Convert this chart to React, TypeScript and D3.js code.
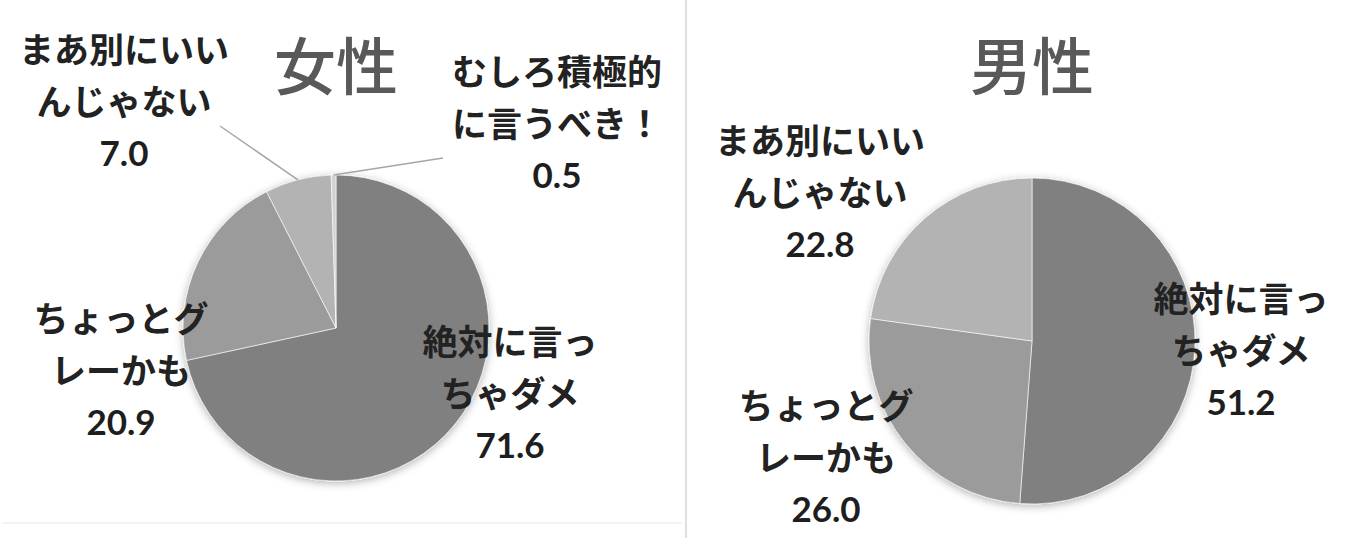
import React from 'react';
import * as d3 from 'd3';

// answer categories, clockwise from 12 o'clock
const categories = ['絶対に言っちゃダメ', 'ちょっとグレーかも', 'まあ別にいいんじゃない', 'むしろ積極的に言うべき！'];
const categoryLines = [
  ['絶対に言っ', 'ちゃダメ'],
  ['ちょっとグ', 'レーかも'],
  ['まあ別にいい', 'んじゃない'],
  ['むしろ積極的', 'に言うべき！'],
];
const femaleValues = [71.6, 20.9, 7.0, 0.5];
const maleValues = [51.2, 26.0, 22.8];
const sliceColors = ['#808080', '#9b9b9b', '#b3b3b3', '#d2d2d2'];

const W = 1364;
const H = 538;
const JP = '"Noto Sans CJK JP", "Noto Sans", sans-serif';
const NUM = 'Lato, "Open Sans", sans-serif';

interface PanelLayout {
  title: string;
  cx: number;
  cy: number;
  r: number;
  titleY: number;
  // center of first label line for each slice, plus optional leader end
  labels: { x: number; y: number; leader?: [number, number] }[];
}

const femaleLayout: PanelLayout = {
  title: '女性',
  cx: 336,
  cy: 328,
  r: 153,
  titleY: 63,
  labels: [
    { x: 510, y: 339 },
    { x: 121, y: 316 },
    { x: 124, y: 47, leader: [220, 126] },
    { x: 557, y: 69, leader: [443, 158] },
  ],
};

const maleLayout: PanelLayout = {
  title: '男性',
  cx: 1032,
  cy: 341,
  r: 163,
  titleY: 63,
  labels: [
    { x: 1241, y: 296 },
    { x: 826, y: 403 },
    { x: 820, y: 138 },
  ],
};

const lineGap = 52;

const PiePanel: React.FC<{ values: number[]; layout: PanelLayout; id: string }> = ({ values, layout, id }) => {
  const pie = d3.pie<number>().sort(null).value(d => d).startAngle(0).endAngle(2 * Math.PI);
  const arcs = pie(values);
  const arc = d3.arc<d3.PieArcDatum<number>>().innerRadius(0).outerRadius(layout.r);
  const edge = d3.arc<d3.PieArcDatum<number>>().innerRadius(layout.r).outerRadius(layout.r);

  return (
    <g>
      <text
        x={layout.cx}
        y={layout.titleY}
        textAnchor="middle"
        dominantBaseline="central"
        fontFamily={JP}
        fontWeight={500}
        fontSize={62}
        fill="#595959"
      >
        {layout.title}
      </text>
      <g transform={`translate(${layout.cx},${layout.cy})`} filter={`url(#shadow-${id})`}>
        {arcs.map((a, i) => (
          <path key={i} d={arc(a) || ''} fill={sliceColors[i]} stroke="#ffffff" strokeWidth={0.6} />
        ))}
      </g>
      {arcs.map((a, i) => {
        const lab = layout.labels[i];
        if (!lab) return null;
        const [ex, ey] = edge.centroid(a);
        return (
          <g key={i}>
            {lab.leader && (
              <line
                x1={layout.cx + ex}
                y1={layout.cy + ey}
                x2={lab.leader[0]}
                y2={lab.leader[1]}
                stroke="#a6a6a6"
                strokeWidth={1.5}
              />
            )}
            {categoryLines[i].map((ln, k) => (
              <text
                key={k}
                x={lab.x}
                y={lab.y + k * lineGap}
                textAnchor="middle"
                dominantBaseline="central"
                fontFamily={JP}
                fontWeight={700}
                fontSize={35}
                fill="#222222"
              >
                {ln}
              </text>
            ))}
            <text
              x={lab.x}
              y={lab.y + 2 * lineGap + 1}
              textAnchor="middle"
              dominantBaseline="central"
              fontFamily={NUM}
              fontWeight={700}
              fontSize={35}
              fill="#1e1e1e"
            >
              {d3.format('.1f')(values[i])}
            </text>
          </g>
        );
      })}
    </g>
  );
};

export default function App() {
  return (
    <svg
      width={W}
      height={H}
      viewBox={`0 0 ${W} ${H}`}
      style={{ position: 'absolute', left: 0, top: 0, background: '#ffffff' }}
      aria-label={categories.join(' / ')}
    >
      <defs>
        {['f', 'm'].map(id => (
          <filter key={id} id={`shadow-${id}`} x="-20%" y="-20%" width="140%" height="140%">
            <feDropShadow dx={0} dy={2} stdDeviation={4} floodColor="#000" floodOpacity={0.3} />
          </filter>
        ))}
      </defs>
      <rect x={0} y={0} width={W} height={H} fill="#ffffff" />
      <line x1={2} y1={523} x2={682} y2={523} stroke="#f0f0f0" strokeWidth={1.5} />
      <line x1={686} y1={0} x2={686} y2={H} stroke="#d6d6d6" strokeWidth={1.6} />
      <PiePanel values={femaleValues} layout={femaleLayout} id="f" />
      <PiePanel values={maleValues} layout={maleLayout} id="m" />
    </svg>
  );
}
